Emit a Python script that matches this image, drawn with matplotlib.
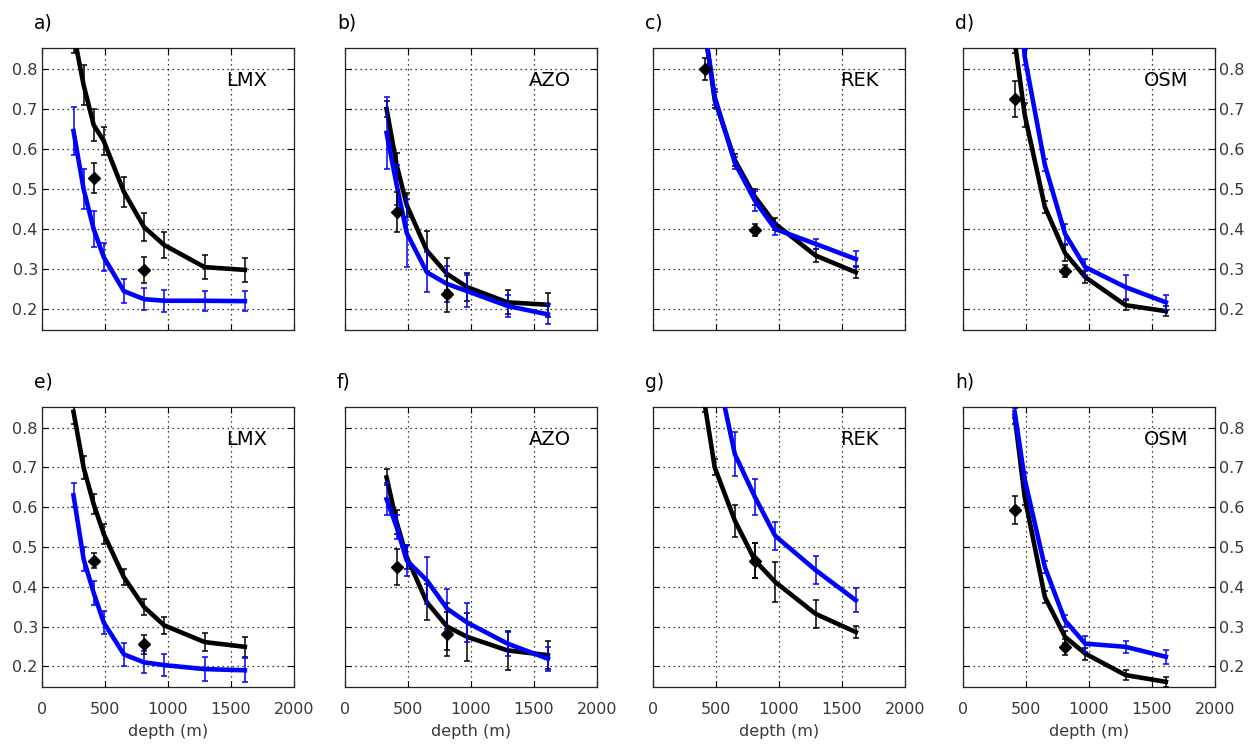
import matplotlib
matplotlib.use("Agg")
import matplotlib.pyplot as plt
import numpy as np

plt.rcParams['font.family'] = ['DejaVu Sans']

# ---------------- data ----------------
depth9 = [250, 330, 410, 490, 650, 810, 970, 1290, 1610]
depth8 = [330, 410, 490, 650, 810, 970, 1290, 1610]
depth7 = [410, 490, 650, 810, 970, 1290, 1610]
obs_depth = [410, 810]
obs_depth_g = [810]

panel_letters = ['a)', 'b)', 'c)', 'd)', 'e)', 'f)', 'g)', 'h)']
stations = ['LMX', 'AZO', 'REK', 'OSM', 'LMX', 'AZO', 'REK', 'OSM']

# a) LMX
a_black = [0.89, 0.76, 0.66, 0.62, 0.493, 0.405, 0.36, 0.305, 0.298]
a_black_err = [0.05, 0.05, 0.04, 0.035, 0.038, 0.035, 0.033, 0.03, 0.03]
a_blue = [0.645, 0.50, 0.40, 0.33, 0.245, 0.225, 0.221, 0.221, 0.22]
a_blue_err = [0.06, 0.05, 0.045, 0.035, 0.03, 0.027, 0.027, 0.025, 0.025]
a_obs = [0.528, 0.298]
a_obs_err = [0.038, 0.033]

# b) AZO
b_black = [0.70, 0.56, 0.46, 0.346, 0.288, 0.255, 0.217, 0.211]
b_black_err = [0.02, 0.03, 0.03, 0.05, 0.04, 0.035, 0.03, 0.03]
b_blue = [0.64, 0.51, 0.39, 0.292, 0.263, 0.245, 0.208, 0.187]
b_blue_err = [0.09, 0.05, 0.085, 0.05, 0.045, 0.04, 0.028, 0.025]
b_obs = [0.442, 0.238]
b_obs_err = [0.05, 0.045]

# c) REK
c_black = [0.90, 0.722, 0.572, 0.48, 0.413, 0.334, 0.292]
c_black_err = [0.02, 0.02, 0.015, 0.02, 0.015, 0.015, 0.015]
c_blue = [0.90, 0.73, 0.565, 0.47, 0.40, 0.363, 0.325]
c_blue_err = [0.02, 0.02, 0.015, 0.025, 0.015, 0.012, 0.02]
c_obs = [0.80, 0.398]
c_obs_err = [0.028, 0.015]

# d) OSM
d_black = [0.87, 0.685, 0.455, 0.34, 0.28, 0.21, 0.195]
d_black_err = [0.03, 0.03, 0.015, 0.02, 0.015, 0.012, 0.012]
d_blue = [1.10, 0.83, 0.56, 0.388, 0.305, 0.255, 0.217]
d_blue_err = [0.02, 0.02, 0.015, 0.025, 0.02, 0.03, 0.018]
d_obs = [0.725, 0.295]
d_obs_err = [0.045, 0.015]

# e) LMX
e_black = [0.84, 0.70, 0.608, 0.533, 0.424, 0.349, 0.303, 0.261, 0.249]
e_black_err = [0.03, 0.03, 0.025, 0.025, 0.02, 0.02, 0.022, 0.022, 0.025]
e_blue = [0.63, 0.47, 0.385, 0.31, 0.23, 0.21, 0.203, 0.193, 0.19]
e_blue_err = [0.03, 0.03, 0.03, 0.028, 0.028, 0.028, 0.028, 0.03, 0.03]
e_obs = [0.466, 0.255]
e_obs_err = [0.02, 0.025]

# f) AZO
f_black = [0.675, 0.562, 0.475, 0.361, 0.30, 0.274, 0.24, 0.228]
f_black_err = [0.02, 0.03, 0.03, 0.045, 0.06, 0.06, 0.05, 0.035]
f_blue = [0.62, 0.55, 0.466, 0.416, 0.345, 0.31, 0.257, 0.219]
f_blue_err = [0.04, 0.03, 0.04, 0.06, 0.05, 0.05, 0.03, 0.03]
f_obs = [0.449, 0.282]
f_obs_err = [0.045, 0.055]

# g) REK
g_black = [0.86, 0.70, 0.566, 0.466, 0.412, 0.332, 0.286]
g_black_err = [0.02, 0.02, 0.04, 0.045, 0.05, 0.035, 0.015]
g_blue = [1.15, 0.97, 0.733, 0.625, 0.528, 0.442, 0.366]
g_blue_err = [0.03, 0.03, 0.055, 0.045, 0.035, 0.035, 0.03]
g_obs = [0.466]
g_obs_err = [0.045]

# h) OSM
h_black = [0.83, 0.625, 0.374, 0.274, 0.232, 0.178, 0.161]
h_black_err = [0.02, 0.02, 0.015, 0.015, 0.015, 0.012, 0.012]
h_blue = [0.84, 0.67, 0.449, 0.315, 0.257, 0.249, 0.224]
h_blue_err = [0.015, 0.015, 0.015, 0.015, 0.02, 0.015, 0.018]
h_obs = [0.593, 0.249]
h_obs_err = [0.035, 0.02]

panels = [
    (depth9, a_black, a_black_err, a_blue, a_blue_err, obs_depth, a_obs, a_obs_err),
    (depth8, b_black, b_black_err, b_blue, b_blue_err, obs_depth, b_obs, b_obs_err),
    (depth7, c_black, c_black_err, c_blue, c_blue_err, obs_depth, c_obs, c_obs_err),
    (depth7, d_black, d_black_err, d_blue, d_blue_err, obs_depth, d_obs, d_obs_err),
    (depth9, e_black, e_black_err, e_blue, e_blue_err, obs_depth, e_obs, e_obs_err),
    (depth8, f_black, f_black_err, f_blue, f_blue_err, obs_depth, f_obs, f_obs_err),
    (depth7, g_black, g_black_err, g_blue, g_blue_err, obs_depth_g, g_obs, g_obs_err),
    (depth7, h_black, h_black_err, h_blue, h_blue_err, obs_depth, h_obs, h_obs_err),
]

x_ticks = [0, 500, 1000, 1500, 2000]
y_ticks = [0.2, 0.3, 0.4, 0.5, 0.6, 0.7, 0.8]

# ---------------- layout ----------------
W, H = 1253, 750
fig = plt.figure(figsize=(W / 100, H / 100), dpi=100)
col_left = [42, 345, 653, 963]
ax_w = 252
rows = [(48, 330), (407, 687)]

tick_color = '#383838'

for i, (dep, bk, bke, bl, ble, od, ov, ove) in enumerate(panels):
    r, c = divmod(i, 4)
    top, bot = rows[r]
    ax = fig.add_axes([col_left[c] / W, 1 - bot / H, ax_w / W, (bot - top) / H])
    ax.set_xlim(0, 2000)
    ax.set_ylim(0.148, 0.852)
    ax.set_xticks(x_ticks)
    ax.set_yticks(y_ticks)
    ax.grid(True, color='black', linestyle=(0, (1, 3)), linewidth=0.9)
    ax.set_axisbelow(True)

    # black model
    ax.plot(dep, bk, color='black', lw=3.3, zorder=3, solid_joinstyle='round')
    ax.errorbar(dep, bk, yerr=bke, fmt='none', ecolor='black', elinewidth=1.1,
                capsize=2.5, capthick=1.1, zorder=3)
    # blue model
    ax.plot(dep, bl, color='#0000ff', lw=3.3, zorder=4, solid_joinstyle='round')
    ax.errorbar(dep, bl, yerr=ble, fmt='none', ecolor='#0000ff', elinewidth=1.1,
                capsize=2.5, capthick=1.1, zorder=4)
    # observations
    ax.errorbar(od, ov, yerr=ove, fmt='D', color='black', ms=6.5, elinewidth=1.1,
                capsize=2.5, capthick=1.1, zorder=5)

    ax.text(0.895, 0.885, stations[i], transform=ax.transAxes, ha='right', va='center',
            fontsize=14, color='black')
    fig.text((col_left[c] - 8) / W, 1 - (top - 25) / H, panel_letters[i], ha='left',
             va='center', fontsize=13.5, color='black')

    ax.tick_params(direction='in', length=4, width=0.8, top=True, right=True,
                   labelsize=11.5, labelcolor=tick_color)
    ax.tick_params(axis='y', pad=3)
    ax.tick_params(axis='x', pad=11)
    if c == 0:
        ax.tick_params(labelleft=True)
    else:
        ax.tick_params(labelleft=False)
    if c == 3:
        ax.tick_params(labelright=True)
    if r == 0:
        ax.tick_params(labelbottom=False)
    else:
        ax.set_xlabel('depth (m)', fontsize=11.5, color=tick_color, labelpad=5)
    ax.set_yticklabels([f'{v:.1f}' for v in y_ticks])
    for s in ax.spines.values():
        s.set_linewidth(0.9)
        s.set_color('#222222')

fig.savefig('out.png', dpi=100)
